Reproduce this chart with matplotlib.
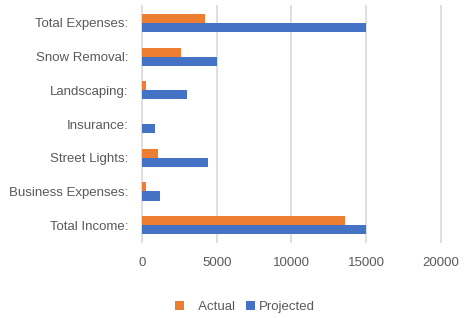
import numpy as np
from matplotlib import pyplot as plt

# categories bottom to top
categories = ['Total Income:', 'Business Expenses:', 'Street Lights:', 'Insurance:',
              'Landscaping:', 'Snow Removal:', 'Total Expenses:']
actual = [13600, 250, 1050, 0, 250, 2600, 4200]
projected = [15000, 1200, 4400, 900, 3000, 5000, 15000]
xticks = [0, 5000, 10000, 15000, 20000]

plt.rcParams['font.family'] = ['Liberation Sans', 'DejaVu Sans']
text_color = '#595959'

fig = plt.figure(figsize=(4.71, 3.18), dpi=100)
ax = fig.add_axes([0.3015, 0.239, 0.6345, 0.742])

y = np.arange(len(categories))
h = 0.27
ax.barh(y + h / 2, actual, height=h, color='#ED7D31', label='   Actual', zorder=3)
ax.barh(y - h / 2, projected, height=h, color='#4472C4', label='Projected', zorder=3)

ax.set_xlim(0, 20000)
ax.set_ylim(-0.5, len(categories) - 0.5)
ax.set_xticks(xticks)
ax.set_xticklabels([str(t) for t in xticks])
ax.set_yticks(y)
ax.set_yticklabels(categories)
ax.tick_params(axis='both', length=0, colors=text_color, labelsize=9.5)
ax.tick_params(axis='x', pad=11)
ax.tick_params(axis='y', pad=10)
ax.grid(axis='x', color='#D9D9D9', linewidth=1.2, zorder=0)
for line in ax.get_xgridlines():
    line.set_clip_on(False)
for s in ax.spines.values():
    s.set_visible(False)

leg = fig.legend(loc='center', bbox_to_anchor=(0.52, 0.035), ncol=2, frameon=False,
                 fontsize=9.5, handlelength=0.7, handleheight=0.7, columnspacing=0.8,
                 handletextpad=0.3)
for t in leg.get_texts():
    t.set_color(text_color)

fig.savefig('out.png', dpi=100)
